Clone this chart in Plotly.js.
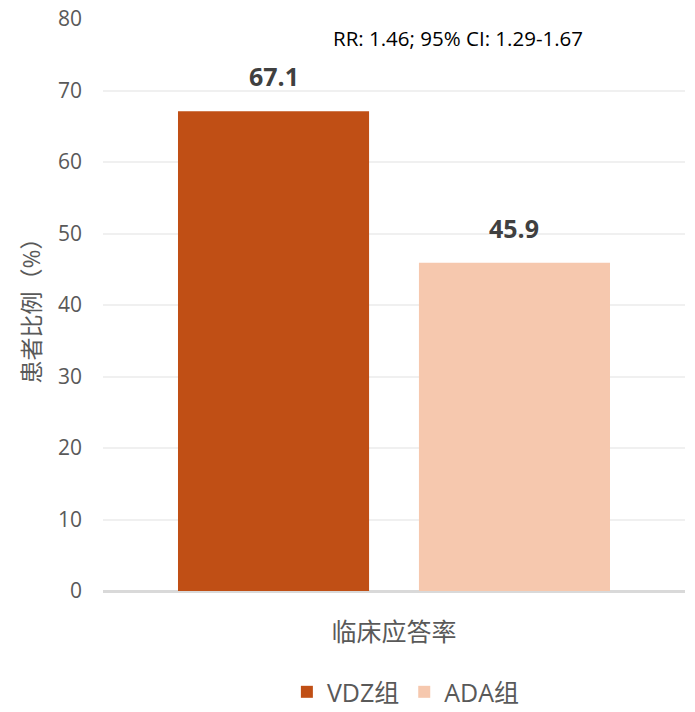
<!DOCTYPE html>
<html>
<head>
<meta charset="utf-8">
<script src="https://cdn.plot.ly/plotly-3.0.1.min.js"></script>
<style>
  html, body { margin: 0; padding: 0; background: #fff; }
  #chart { width: 695px; height: 712px; }
</style>
</head>
<body>
<div id="chart"></div>
<script>
// Data.
const categories = ["临床应答率"];
const groupNames = ["VDZ组", "ADA组"];
const vdzValues = [67.1];
const adaValues = [45.9];
const groupColors = ["#C04F15", "#F6C8AE"];
const statText = "RR: 1.46; 95% CI: 1.29-1.67";

const font = '"Segoe UI", "Open Sans", "Noto Sans CJK SC", sans-serif';
const bargap = 0.172;
const groupgap = 0.207;

const seriesValues = [vdzValues, adaValues];
const data = seriesValues.map((vals, i) => ({
  type: 'bar',
  name: groupNames[i],
  x: categories,
  y: vals,
  marker: { color: groupColors[i] },
  hoverinfo: 'y'
}));

// Value labels above each bar (offset to each bar slot within the group).
const slotHalf = (1 - bargap) / 4;
const annotations = [];
seriesValues.forEach((vals, i) => {
  vals.forEach((v, j) => {
    annotations.push({
      xref: 'x', yref: 'y',
      x: j + (i === 0 ? -slotHalf : slotHalf),
      y: v,
      yshift: 35,
      text: v.toFixed(1),
      showarrow: false,
      font: { family: font, size: 25, color: '#404040', weight: 'bold' }
    });
  });
});
annotations.push({
  xref: 'paper', yref: 'paper',
  x: 0.610, y: 0.966,
  xanchor: 'center', yanchor: 'middle',
  text: statText,
  showarrow: false,
  font: { family: font, size: 20.5, color: '#000000' }
});

const layout = {
  width: 695,
  height: 712,
  margin: { l: 103, r: 10, t: 19, b: 121 },
  paper_bgcolor: '#ffffff',
  plot_bgcolor: '#ffffff',
  barmode: 'group',
  bargap: bargap,
  bargroupgap: groupgap,
  font: { family: font, color: '#595959' },
  xaxis: {
    type: 'category',
    tickfont: { family: font, size: 25, color: '#595959' },
    ticklen: 0,
    ticklabelstandoff: 24,
    showline: false,
    showgrid: false,
    zeroline: false
  },
  yaxis: {
    range: [0, 80],
    dtick: 10,
    tickfont: { family: font, size: 21, color: '#595959' },
    ticklabelstandoff: 20,
    gridcolor: '#f0f0f0',
    gridwidth: 2,
    zeroline: true,
    zerolinecolor: '#d9d9d9',
    zerolinewidth: 3,
    showline: false,
    title: {
      text: '患者比例（%）',
      font: { family: font, size: 23, color: '#595959' },
      standoff: 10
    }
  },
  legend: {
    orientation: 'h',
    xref: 'container', yref: 'container',
    x: 0.584, xanchor: 'center',
    y: 0.028, yanchor: 'middle',
    font: { family: font, size: 25, color: '#595959' },
    itemwidth: 30,
    traceorder: 'normal'
  },
  annotations: annotations,
  showlegend: true
};

Plotly.newPlot('chart', data, layout, { displayModeBar: false, staticPlot: true });
</script>
</body>
</html>
